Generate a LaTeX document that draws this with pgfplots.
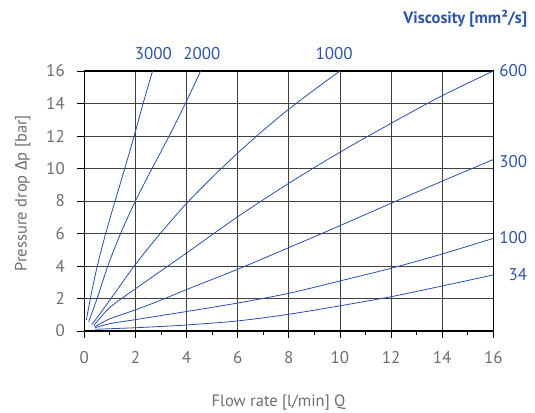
\documentclass[border=0pt]{standalone}
\usepackage{fontspec}
\setmainfont{PT Sans}
\newfontfamily\grk{Fira Sans}
\usepackage{pgfplots}
\pgfplotsset{compat=1.18}
\definecolor{curve}{HTML}{2A4FA8}
\definecolor{lbl}{HTML}{2D55A5}
\definecolor{tk}{HTML}{6E6E6E}
\pgfplotsset{visc/.style={curve, line width=0.8pt, smooth, no marks}}
\begin{document}
\begin{tikzpicture}
\begin{axis}[
    scale only axis,
    width=409pt, height=260pt,
    xmin=0, xmax=16, ymin=0, ymax=16,
    xtick={0,2,...,16}, ytick={0,2,...,16},
    minor xtick={1,3,...,15},
    xtick pos=left, ytick pos=left,
    tick align=outside,
    major tick length=7pt, minor tick length=4pt,
    every tick/.style={black, line width=0.8pt},
    grid=major,
    major grid style={black!75, line width=0.8pt},
    axis line style={line width=1.2pt},
    tick label style={font=\fontsize{17}{17}\selectfont, text=tk},
    xticklabel style={yshift=-10pt},
    yticklabel style={xshift=-9pt},
    /pgf/number format/assume math mode=true,
    label style={font=\fontsize{16.5}{16.5}\selectfont, text=tk},
    xlabel={Flow rate [l/min] Q},
    ylabel={Pressure drop {\grk Δ}p [bar]},
    xlabel style={at={(axis description cs:0.475,-0.277)}, anchor=center},
    ylabel style={at={(axis description cs:-0.1506,0.53)}, anchor=center},
    clip=false,
]
% 3000
\addplot[visc] coordinates {(0.08,0.68) (0.25,2.1) (0.45,3.6) (0.7,5.2) (1.0,6.9) (1.3,8.5) (1.62,10.2) (1.95,12) (2.3,14) (2.67,16)};
% 2000
\addplot[visc] coordinates {(0.17,0.57) (0.5,2) (0.92,4) (1.42,6) (2,8) (2.65,10) (3.32,12) (4,14.15) (4.55,16)};
% 1000
\addplot[visc] coordinates {(0.3,0.4) (1,1.9) (2,4.1) (3,6.05) (4,7.85) (5,9.45) (6,10.95) (7,12.35) (8,13.65) (9,14.85) (10,16)};
% 600
\addplot[visc] coordinates {(0.37,0.33) (1,1.45) (2,2.6) (3,3.7) (4,4.8) (6,7.03) (8,9.09) (10,11.0) (12,12.78) (14,14.48) (16,16)};
% 300
\addplot[visc] coordinates {(0.4,0.25) (1,0.75) (2,1.3) (3,1.9) (4,2.55) (6,3.8) (8,5.13) (10,6.48) (12,7.86) (14,9.22) (16,10.55)};
% 100
\addplot[visc] coordinates {(0.43,0.2) (1,0.45) (2,0.7) (3,0.95) (4,1.2) (6,1.72) (8,2.32) (10,3.08) (12,3.86) (14,4.74) (16,5.7)};
% 34
\addplot[visc] coordinates {(0.43,0.1) (1,0.14) (2,0.2) (3,0.28) (4,0.37) (6,0.62) (8,1.03) (10,1.55) (12,2.11) (14,2.77) (16,3.45)};

\begin{scope}[every node/.style={font=\fontsize{17}{17}\selectfont, text=lbl, inner sep=0pt}]
\node at (axis cs:2.7,17.05) {3000};
\node at (axis cs:4.6,17.05) {2000};
\node at (axis cs:9.77,17.05) {1000};
\node[anchor=east] at (axis cs:17.33,16) {600};
\node[anchor=east] at (axis cs:17.33,10.4) {300};
\node[anchor=east] at (axis cs:17.33,5.77) {100};
\node[anchor=east] at (axis cs:17.33,3.45) {34};
\node[anchor=east, font=\bfseries\fontsize{16.5}{16.5}\selectfont] at (axis cs:17.33,19.2) {Viscosity [mm²/s]};
\end{scope}
\end{axis}
\pgfresetboundingbox
\path[use as bounding box] (-84.3pt,-81pt) rectangle (450.7pt,331pt);
\end{tikzpicture}
\end{document}
